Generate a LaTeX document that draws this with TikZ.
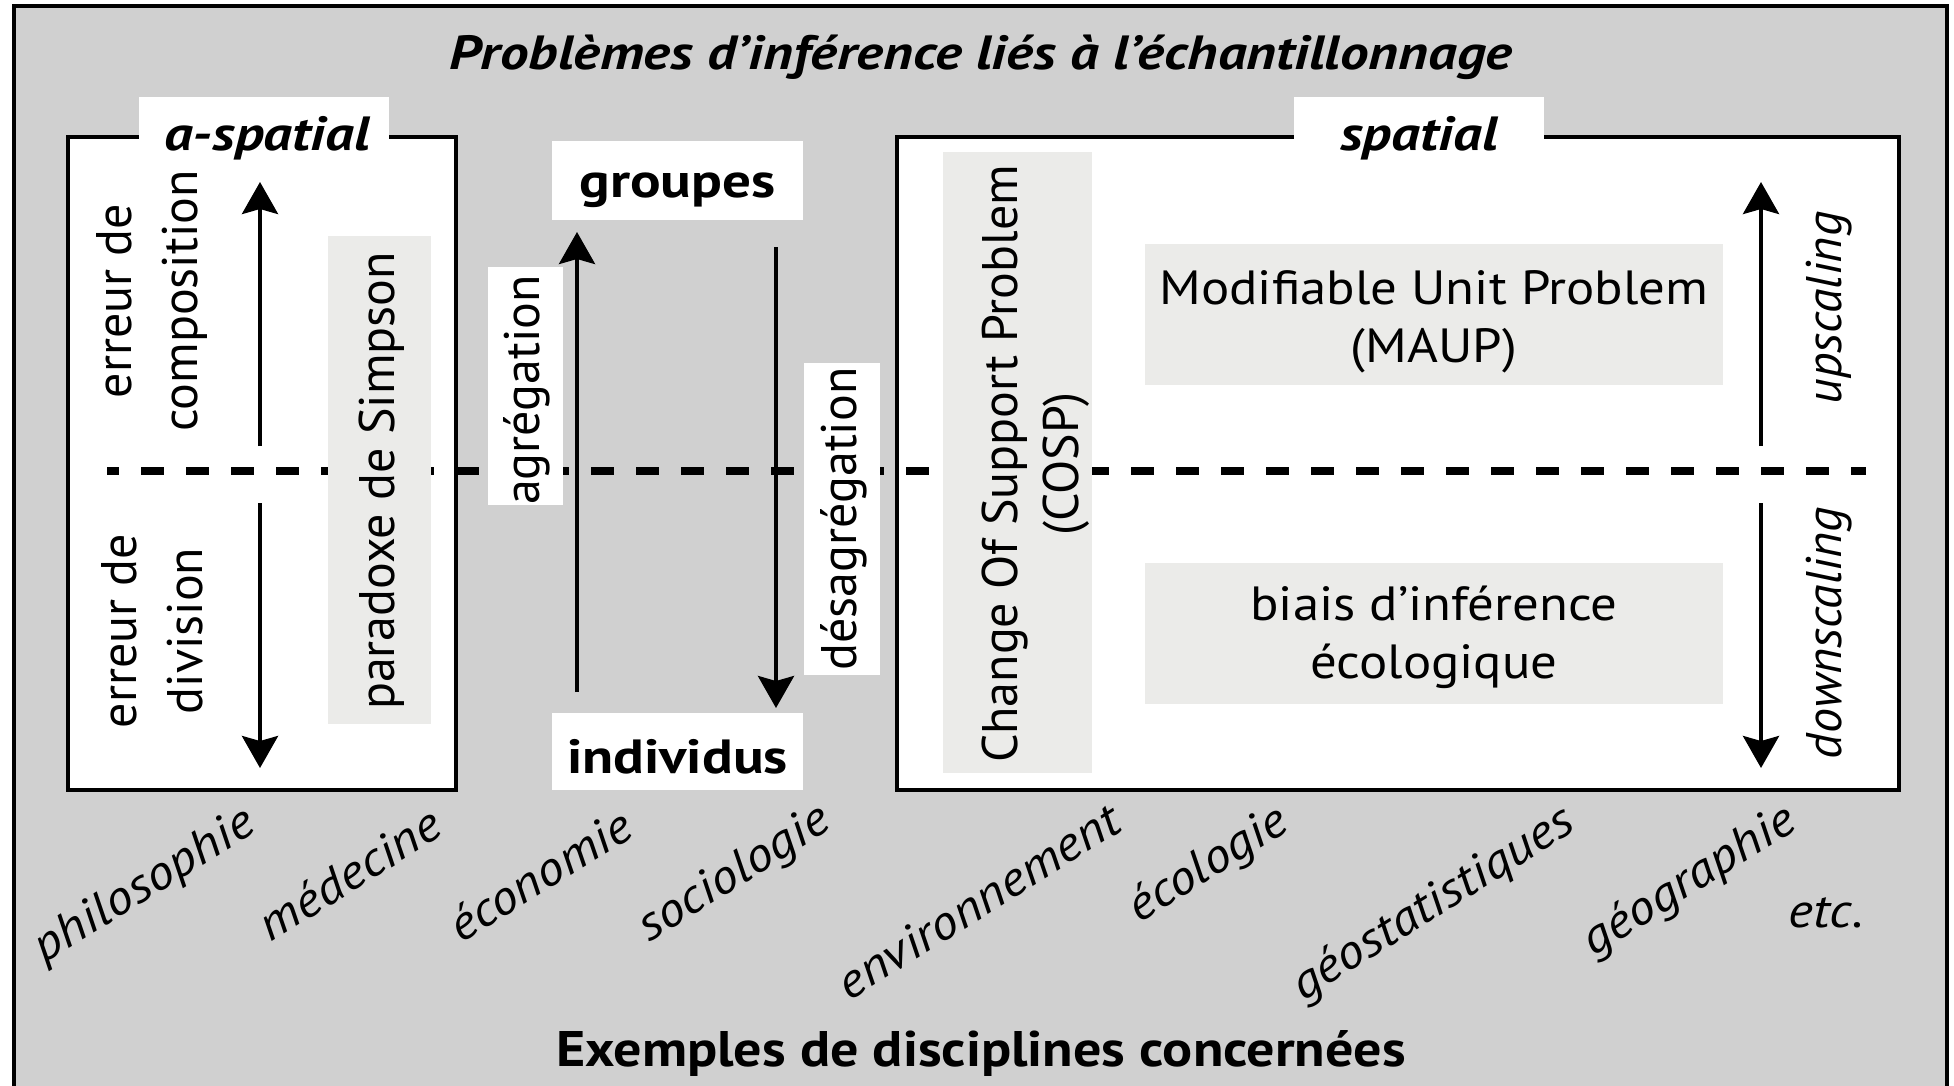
\documentclass[tikz,border=0pt]{standalone}
\usepackage{fontspec}
\setmainfont{PT Sans}
\newfontfamily\fV{PT Sans}
\newfontfamily\fRH[FakeStretch=1.10]{PT Sans}
\newfontfamily\fBH[FakeStretch=1.19]{PT Sans}
\newfontfamily\fBT[FakeStretch=1.12]{PT Sans}
\newfontfamily\fIH[FakeStretch=1.11]{PT Sans}
\usetikzlibrary{arrows.meta}
\definecolor{bggray}{RGB}{208,208,208}
\definecolor{boxgray}{RGB}{235,235,233}
\begin{document}
\begin{tikzpicture}[x=1pt,y=-1pt,
  vreg/.style={font=\fV\fontsize{50}{66}\selectfont, align=center, inner sep=0pt, rotate=90},
  hreg/.style={font=\fRH\fontsize{48}{58}\selectfont, align=center, inner sep=0pt},
  bld/.style={font=\fBH\fontsize{48}{60}\selectfont\bfseries, inner sep=0pt},
  bit/.style={font=\fBH\fontsize{48}{60}\selectfont\bfseries\itshape, inner sep=0pt},
  vitl/.style={font=\fV\fontsize{50}{60}\selectfont\itshape, inner sep=0pt, rotate=90},
  disc/.style={font=\fIH\fontsize{48}{60}\selectfont\itshape, inner sep=0pt, rotate=32},
  whitebox/.style={fill=white, draw=none, inner sep=0pt},
  greybox/.style={fill=boxgray, draw=none, inner sep=0pt},
  frame/.style={fill=white, draw=black, line width=3.5pt},
  arr/.style={line width=4pt, -{Stealth[length=32pt,width=36pt,inset=5pt]}},
  dline/.style={line width=8pt, dash pattern=on 23pt off 22pt, dash phase=11pt}
]
\useasboundingbox (0,0) rectangle (1954,1085);
\fill[white] (0,0) rectangle (1954,1085);
% outer frame
\draw[line width=4.5pt, fill=bggray] (14,6) rectangle (1947,1110);

% title
\node[bit, anchor=base] (title) at (981,69) {Problèmes d’inférence liés à l’échantillonnage};

% main boxes
\node[frame, minimum width=388pt, minimum height=653pt] (abox) at (262,463.5) {};
\node[frame, minimum width=1002pt, minimum height=653pt] (sbox) at (1398,463.5) {};

% tabs
\node[whitebox, minimum width=250pt, minimum height=48pt, anchor=north] (atab) at (264,97) {};
\node[bit, anchor=base] (alabel) at (267,150) {a-spatial};
\node[whitebox, minimum width=250pt, minimum height=48pt, anchor=north] (stab) at (1419,97) {};
\node[bit, anchor=base] (slabel) at (1419,150) {spatial};

% groupes / individus
\node[whitebox, minimum width=251pt, minimum height=79pt] (groupes) at (677.5,180.5) {};
\node[bld, anchor=base] (groupesT) at (677.5,197) {groupes};
\node[whitebox, minimum width=251pt, minimum height=77pt] (individus) at (677.5,751.5) {};
\node[bld, anchor=base] (individusT) at (677.5,773) {individus};

% dashed separator
\coordinate (dl) at (107,471);
\coordinate (dr) at (1866,471);
\draw[dline] (dl) -- (dr);

% label boxes over the dashed line
\node[greybox, minimum width=103pt, minimum height=488pt] (simpson) at (379.5,480) {};
\node[vreg] (simpsonT) at (382,481) {paradoxe de Simpson};
\node[whitebox, minimum width=75pt, minimum height=238pt] (agr) at (525.5,386) {};
\node[vreg] (agrT) at (527,390) {agrégation};
\node[whitebox, minimum width=76pt, minimum height=312pt] (desagr) at (842,519) {};
\node[vreg] (desagrT) at (844,519) {désagrégation};
\node[greybox, minimum width=149pt, minimum height=621pt] (cosp) at (1017.5,462.5) {};
\node[vreg, font=\fV\fontsize{50}{61}\selectfont] (cospT) at (1036,464) {Change Of Support Problem\\(COSP)};
\node[greybox, minimum width=578pt, minimum height=141pt] (maup) at (1434,314.5) {};
\node[hreg] (maupT) at ([yshift=-7pt]maup.center) {Modifiable Unit Problem\\(MAUP)};
\node[greybox, minimum width=578pt, minimum height=141pt] (biais) at (1434,633.5) {};
\node[hreg] (biaisT) at ([yshift=-4pt]biais.center) {biais d’inférence\\écologique};

% left box texts
\node[vreg] (compo) at (152,301) {erreur de\\composition};
\node[vreg] (divis) at (152,631) {erreur de\\division};

% right box texts
\node[vitl] (up) at (1829,308) {upscaling};
\node[vitl] (down) at (1829,633) {downscaling};

% arrows
\coordinate (l1s) at (260,446); \coordinate (l1e) at (260,182);
\coordinate (l2s) at (260,503); \coordinate (l2e) at (260,768);
\coordinate (g1s) at (577,692); \coordinate (g1e) at (577,232);
\coordinate (g2s) at (776,247); \coordinate (g2e) at (776,708);
\coordinate (r1s) at (1761,446); \coordinate (r1e) at (1761,182);
\coordinate (r2s) at (1761,503); \coordinate (r2e) at (1761,768);
\draw[arr] (l1s) -- (l1e);
\draw[arr] (l2s) -- (l2e);
\draw[arr] (g1s) -- (g1e);
\draw[arr] (g2s) -- (g2e);
\draw[arr] (r1s) -- (r1e);
\draw[arr] (r2s) -- (r2e);

% disciplines
\node[disc] (philo) at (145,887) {philosophie};
\node[disc] (medec) at (349,874) {médecine};
\node[disc] (econo) at (540,875) {économie};
\node[disc] (socio) at (735,875) {sociologie};
\node[disc] (envir) at (978,901) {environnement};
\node[disc] (ecolo) at (1209,866) {écologie};
\node[disc] (geost) at (1434,905) {géostatistiques};
\node[disc] (geogr) at (1690,882) {géographie};
\node[font=\fIH\fontsize{48}{60}\selectfont\itshape, inner sep=0pt] (etc) at (1826,913) {etc.};

% bottom title
\node[font=\fBT\fontsize{50}{60}\selectfont\bfseries, inner sep=0pt, anchor=base] (bottom) at (981,1066) {Exemples de disciplines concernées};
\end{tikzpicture}
\end{document}
